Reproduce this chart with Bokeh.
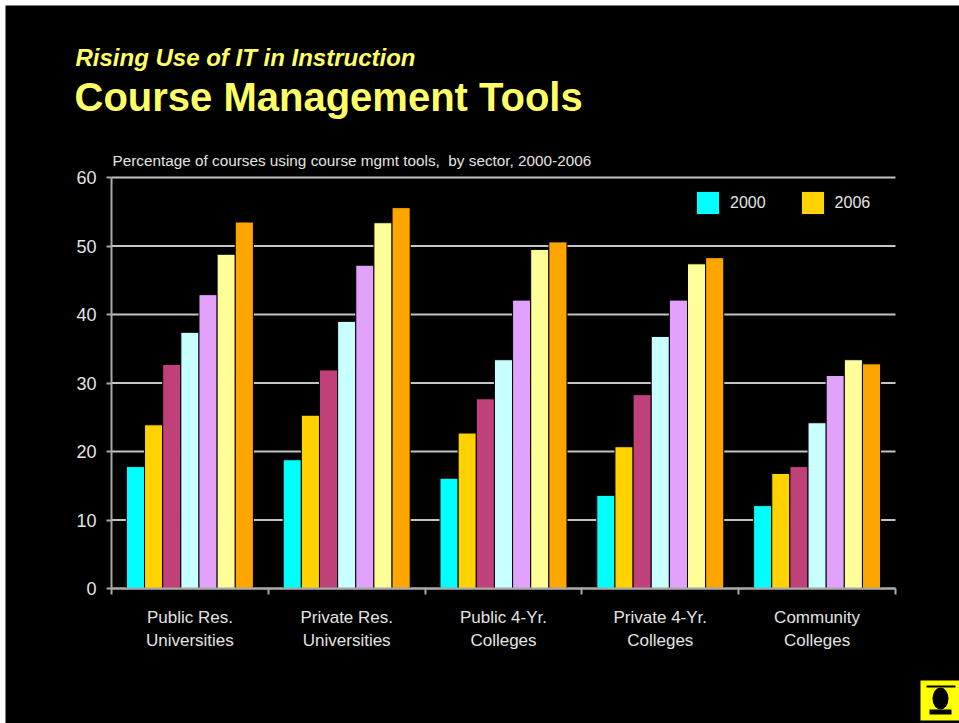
from bokeh.plotting import figure
from bokeh.models import (ColumnDataSource, FixedTicker, Label, Legend, LegendItem, Range1d)
from bokeh.embed import file_html
from bokeh.resources import INLINE

# ---- data ----
sectors = ["Public Res.\nUniversities", "Private Res.\nUniversities",
           "Public 4-Yr.\nColleges", "Private 4-Yr.\nColleges",
           "Community\nColleges"]
years = ["2000", "2001", "2002", "2003", "2004", "2005", "2006"]
v2000 = [17.8, 18.8, 16.1, 13.6, 12.1]
v2001 = [23.9, 25.3, 22.7, 20.7, 16.8]
v2002 = [32.7, 31.9, 27.7, 28.3, 17.8]
v2003 = [37.4, 39.0, 33.4, 36.8, 24.2]
v2004 = [42.9, 47.2, 42.1, 42.1, 31.1]
v2005 = [48.8, 53.4, 49.5, 47.4, 33.4]
v2006 = [53.5, 55.6, 50.6, 48.3, 32.8]
series = [v2000, v2001, v2002, v2003, v2004, v2005, v2006]
colors = ["#00FFFF", "#FFD200", "#C0407A", "#C8FFFF", "#E0A2FA", "#FFFF99", "#FFA500"]
y_ticks = [0, 10, 20, 30, 40, 50, 60]
kicker = "Rising Use of IT in Instruction"
title = "Course Management Tools"
subtitle = "Percentage of courses using course mgmt tools,\u00a0 by sector, 2000-2006"

FONT = "Liberation Sans"
TXT = "#E4E4E4"

# ---- layout (pixels on the canvas) ----
W, H = 954, 718
X0_PX, GROUP_PX = 106, 156.8      # x = 0 position, width of one sector group
Y0_PX, UNIT_PX = 583, 6.85        # y = 0 position, pixels per percentage point
n = len(sectors)


def px_x(cx):
    return (cx - X0_PX) / GROUP_PX


def px_y(cy):
    return (Y0_PX - cy) / UNIT_PX


p = figure(width=W, height=H, output_backend="svg", toolbar_location=None, title=None,
           x_range=Range1d(px_x(0), px_x(W)), y_range=Range1d(px_y(H), px_y(0)),
           min_border_left=0, min_border_right=0, min_border_top=0, min_border_bottom=0,
           margin=(5, 0, 0, 5))
p.background_fill_color = "black"
p.border_fill_color = "black"
p.outline_line_color = None
p.xgrid.visible = False
p.ygrid.visible = False

# horizontal grid lines across the sector area
p.segment(x0=[0] * len(y_ticks), x1=[n] * len(y_ticks), y0=y_ticks, y1=y_ticks,
          line_color="#C4C4C4", line_width=2, level="underlay")

bw = 0.1157
renderers = []
for j, (yr, vals) in enumerate(zip(years, series)):
    xs = [i + 0.5 + (j - 3) * bw for i in range(n)]
    src = ColumnDataSource(dict(x=xs, top=vals))
    r = p.vbar(x="x", top="top", width=bw, source=src, fill_color=colors[j],
               line_color="black", line_width=1)
    renderers.append(r)

# x axis at y = 0
xa = p.xaxis[0]
xa.fixed_location = 0
xa.bounds = (0, n)
xa.ticker = FixedTicker(ticks=[i + 0.5 for i in range(n)], minor_ticks=list(range(n + 1)))
xa.major_label_overrides = {i + 0.5: s for i, s in enumerate(sectors)}
xa.major_tick_out = 0
xa.major_tick_in = 0
xa.minor_tick_out = 6
xa.minor_tick_in = 0
xa.minor_tick_line_color = "#A8A8A8"
xa.minor_tick_line_width = 2
xa.axis_line_color = "#A8A8A8"
xa.axis_line_width = 2
xa.major_label_text_color = TXT
xa.major_label_text_font = FONT
xa.major_label_text_font_size = "17px"
xa.major_label_text_line_height = 1.25
xa.major_label_standoff = 13

# y axis at x = 0
ya = p.yaxis[0]
ya.fixed_location = 0
ya.bounds = (0, 60)
ya.ticker = FixedTicker(ticks=y_ticks)
ya.minor_tick_line_color = None
ya.major_tick_out = 5
ya.major_tick_in = 0
ya.major_tick_line_color = "#A8A8A8"
ya.major_tick_line_width = 2
ya.axis_line_color = "#A8A8A8"
ya.axis_line_width = 2
ya.major_label_text_color = TXT
ya.major_label_text_font = FONT
ya.major_label_text_font_size = "18px"
ya.major_label_standoff = 10

legend = Legend(items=[LegendItem(label="2000", renderers=[renderers[0]]),
                       LegendItem(label="2006", renderers=[renderers[1]])],
                location=(688, 506), orientation="horizontal",
                glyph_width=29, glyph_height=29, label_standoff=8, spacing=32,
                padding=0, margin=0, border_line_alpha=0, background_fill_alpha=0,
                label_text_color=TXT, label_text_font=FONT,
                label_text_font_size="16px", label_height=29)
p.add_layout(legend)

# titles (screen units: from the canvas' bottom-left corner)
p.add_layout(Label(x=70, y=H - 52, x_units="screen", y_units="screen",
                   text=kicker, text_color="#FFFF66", text_font=FONT,
                   text_font_size="24px", text_font_style="bold italic",
                   text_baseline="alphabetic"))
p.add_layout(Label(x=69, y=H - 91, x_units="screen", y_units="screen",
                   text=title, text_color="#FFFF66", text_font=FONT,
                   text_font_size="40px", text_font_style="bold",
                   text_baseline="alphabetic"))
p.add_layout(Label(x=107, y=H - 155, x_units="screen", y_units="screen",
                   text=subtitle, text_color=TXT, text_font=FONT,
                   text_font_size="15.3px", text_baseline="alphabetic"))

# small logo in the corner
p.quad(left=[px_x(915)], right=[px_x(954)], top=[px_y(675)], bottom=[px_y(715)],
       fill_color="#FFFF00", line_color=None)
p.quad(left=[px_x(924)], right=[px_x(946)], top=[px_y(704)], bottom=[px_y(709)],
       fill_color="black", line_color=None)
p.ellipse(x=[px_x(935)], y=[px_y(693)], width=[16 / GROUP_PX], height=[22 / UNIT_PX],
          fill_color="black", line_color=None)
p.segment(x0=[px_x(921)], y0=[px_y(681)], x1=[px_x(950)], y1=[px_y(681)],
          line_color="black", line_width=2)

open("out.html", "w").write(file_html(p, INLINE))
